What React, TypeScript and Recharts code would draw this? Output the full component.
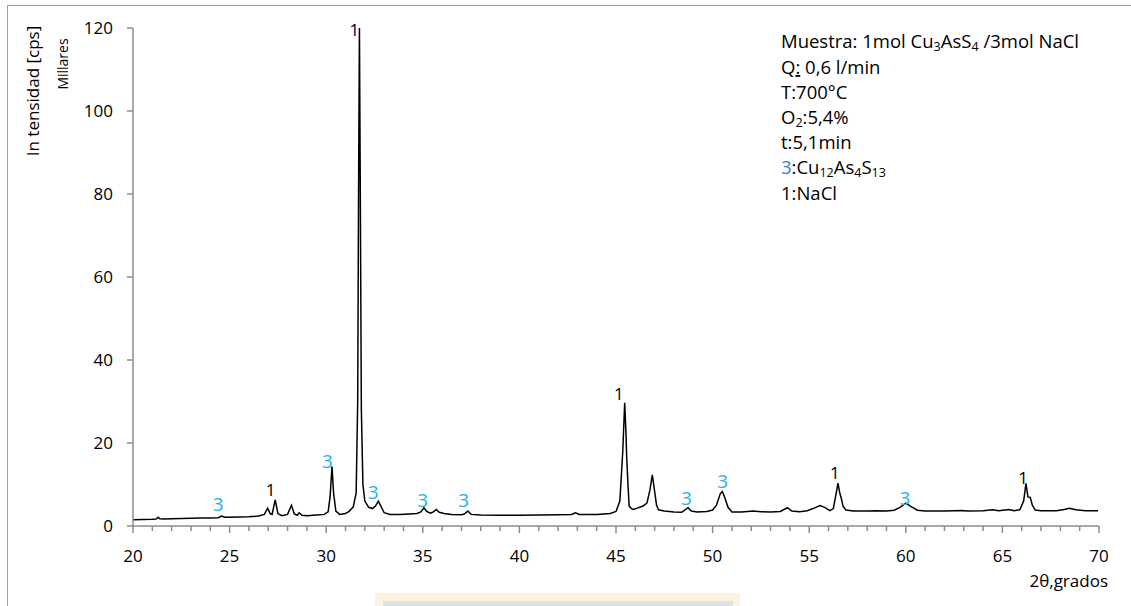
import { ComposedChart, Line, Scatter, XAxis, YAxis } from 'recharts';

// 2θ (grados)
const ANGLE = [
  20.0, 20.5, 21.0, 21.2, 21.3, 21.4, 21.6, 22.0, 22.5, 23.0, 23.5, 24.0, 24.4, 24.6, 24.75,
  25.0, 25.5, 26.0, 26.5, 26.8, 26.97, 27.1, 27.2, 27.36, 27.5, 27.7, 28.0, 28.2, 28.35, 28.5,
  28.6, 28.75, 29.0, 29.5, 29.9, 30.1, 30.2, 30.3, 30.38, 30.5, 30.7, 31.0, 31.2, 31.4, 31.55,
  31.63, 31.68, 31.72, 31.76, 31.82, 31.9, 32.0, 32.2, 32.4, 32.55, 32.7, 32.85, 33.0, 33.3, 33.8,
  34.3, 34.7, 34.9, 35.06, 35.2, 35.4, 35.55, 35.7, 35.85, 36.1, 36.5, 37.0, 37.15, 37.33, 37.5,
  38.0, 39.0, 40.0, 41.0, 42.0, 42.7, 42.9, 43.1, 44.0, 44.7, 45.0, 45.2, 45.35, 45.45, 45.52,
  45.55, 45.62, 45.68, 45.8, 45.9, 46.1, 46.4, 46.6, 46.75, 46.88, 46.98, 47.1, 47.2, 47.5, 48.0,
  48.4, 48.73, 48.9, 49.2, 49.7, 50.0, 50.2, 50.4, 50.5, 50.6, 50.8, 51.0, 51.5, 52.1, 52.5,
  53.0, 53.5, 53.87, 54.1, 54.5, 54.9, 55.2, 55.56, 55.8, 56.07, 56.25, 56.4, 56.49, 56.58, 56.66,
  56.75, 56.9, 57.3, 58.0, 58.5, 59.0, 59.4, 59.7, 60.0, 60.3, 60.6, 61.0, 62.0, 62.9, 63.2,
  64.0, 64.5, 64.8, 65.35, 65.6, 65.9, 66.1, 66.22, 66.32, 66.44, 66.55, 66.7, 67.0, 67.8, 68.2,
  68.47, 68.8, 69.3, 69.95,
];

// intensidad, millares de cps
const INTENSITY = [
  1.5, 1.55, 1.6, 1.7, 2.1, 1.75, 1.7, 1.75, 1.8, 1.85, 1.9, 1.95, 2.0, 2.4, 2.1,
  2.1, 2.15, 2.2, 2.4, 2.8, 4.3, 3.0, 2.8, 6.3, 3.0, 2.5, 2.8, 5.0, 2.9, 2.6,
  3.2, 2.6, 2.5, 2.65, 2.8, 3.4, 7, 14.3, 8, 3.6, 2.8, 3.0, 3.6, 4.6, 8,
  30, 85, 120, 85, 28, 10, 6, 4.5, 4.2, 4.8, 6.0, 4.6, 3.2, 2.8, 2.8,
  2.9, 3.0, 3.4, 4.4, 3.5, 3.1, 3.4, 4.0, 3.3, 3.0, 2.8, 2.7, 2.9, 3.6, 2.8,
  2.65, 2.6, 2.6, 2.65, 2.7, 2.8, 3.2, 2.8, 2.8, 3.0, 3.5, 6, 18, 29.7, 22,
  17, 10, 4.8, 4.2, 4.0, 4.3, 4.8, 5.5, 8.5, 12.3, 9, 5, 3.9, 3.6, 3.4,
  3.3, 4.4, 3.6, 3.4, 3.5, 3.85, 5.0, 7.8, 8.3, 7.2, 4.5, 3.4, 3.4, 3.6, 3.45,
  3.4, 3.5, 4.4, 3.6, 3.45, 3.7, 4.2, 4.9, 4.5, 3.7, 4.2, 8, 10.3, 8, 6.7,
  4.8, 3.85, 3.6, 3.6, 3.65, 3.6, 3.8, 4.5, 5.5, 4.6, 3.8, 3.6, 3.6, 3.75, 3.6,
  3.65, 3.9, 3.65, 3.95, 3.7, 3.9, 6, 10.3, 7, 6.9, 5, 3.85, 3.7, 3.7, 4.0,
  4.3, 3.9, 3.7, 3.7,
];

// peak labels: phase number, position (2θ, millares)
const PEAK_TEXT = ['3', '1', '3', '1', '3', '3', '3', '1', '3', '3', '1', '3', '1'];
const PEAK_X = [24.41, 27.12, 30.07, 31.46, 32.43, 34.99, 37.12, 45.15, 48.64, 50.52, 56.33, 59.95, 66.07];
const PEAK_Y = [5.2, 8.75, 15.7, 119.6, 8.15, 6.15, 6.15, 31.9, 6.7, 10.8, 12.9, 6.8, 11.5];

const X_TICKS = [
  20, 21, 22, 23, 24, 25, 26, 27, 28, 29, 30, 31, 32, 33, 34, 35, 36, 37, 38, 39, 40, 41, 42,
  43, 44, 45, 46, 47, 48, 49, 50, 51, 52, 53, 54, 55, 56, 57, 58, 59, 60, 61, 62, 63, 64, 65,
  66, 67, 68, 69, 70,
];
const X_LABELS = [20, 25, 30, 35, 40, 45, 50, 55, 60, 65, 70];
const Y_TICKS = [0, 20, 40, 60, 80, 100, 120];

const pattern = ANGLE.map((x, i) => ({ x, y: INTENSITY[i] }));
const peaks = PEAK_X.map((x, i) => ({ x, y: PEAK_Y[i], text: PEAK_TEXT[i] }));

const FONT = '"Open Sans", sans-serif';
const AXIS = '#8c8c8c';
const BLUE = '#1fb0ee';

const XTick = (props: any) => {
  const { x, y, payload } = props;
  const major = X_LABELS.includes(payload.value);
  return (
    <g>
      <line x1={x} y1={y} x2={x} y2={y + (major ? 7 : 5)} stroke={AXIS} strokeWidth={1.5} />
      {major && (
        <text x={x} y={y + 36} textAnchor="middle" fontFamily={FONT} fontSize={17} fill="#000">
          {payload.value}
        </text>
      )}
    </g>
  );
};

const PeakLabel = (props: any) => {
  const { cx, cy, payload } = props;
  const isThree = payload.text === '3';
  return (
    <text
      x={cx}
      y={cy}
      dy="0.36em"
      textAnchor="middle"
      fontFamily={FONT}
      fontSize={isThree ? 19 : 17}
      fill={isThree ? BLUE : '#000'}
    >
      {payload.text}
    </text>
  );
};

export default function App() {
  return (
    <div style={{ position: 'absolute', left: 0, top: 0, width: 1131, height: 606, background: '#fff', overflow: 'hidden' }}>
      <div style={{ position: 'absolute', left: 7, top: 5, width: 1124, height: 601, borderTop: '1.5px solid #a0a0a0', borderLeft: '1.5px solid #a0a0a0' }} />
      <div style={{ position: 'absolute', left: 375, top: 593, width: 365, height: 13, background: '#fdf2de' }} />
      <div style={{ position: 'absolute', left: 383, top: 601, width: 350, height: 5, background: '#dde3ec' }} />
      <div style={{ position: 'absolute', left: 0, top: 0 }}>
        <ComposedChart width={1131} height={606} margin={{ top: 28, right: 32, left: 0, bottom: 0 }}>
          <XAxis
            dataKey="x"
            type="number"
            domain={[20, 70]}
            ticks={X_TICKS}
            interval={0}
            height={80}
            stroke={AXIS}
            strokeWidth={1.5}
            tickLine={false}
            tickSize={0}
            tickMargin={0}
            tick={<XTick />}
          />
          <YAxis
            type="number"
            domain={[0, 120]}
            ticks={Y_TICKS}
            width={133}
            stroke={AXIS}
            strokeWidth={1.5}
            tickSize={6}
            tickMargin={14}
            tick={{ fontFamily: FONT, fontSize: 17, fill: '#000' }}
          />
          <Line
            data={pattern}
            dataKey="y"
            type="linear"
            stroke="#000"
            strokeWidth={1.5}
            dot={false}
            isAnimationActive={false}
          />
          <Scatter data={peaks} dataKey="y" shape={<PeakLabel />} isAnimationActive={false} />
        </ComposedChart>
      </div>
      <svg width={1131} height={606} style={{ position: 'absolute', left: 0, top: 0, pointerEvents: 'none' }}>
        <text transform="translate(39,91) rotate(-90)" textAnchor="middle" fontFamily={FONT} fontSize={17}>
          In tensidad [cps]
        </text>
        <text transform="translate(68,64) rotate(-90)" textAnchor="middle" fontFamily={FONT} fontSize={14}>
          Millares
        </text>
        <text x={1108} y={587} textAnchor="end" fontFamily={FONT} fontSize={17}>
          2θ,grados
        </text>
        <g fontFamily={FONT} fontSize={18.5} fill="#000">
          <text x={781} y={48}>
            Muestra: 1mol Cu<tspan fontSize={12.5} dy={3}>3</tspan>
            <tspan dy={-3}>AsS</tspan>
            <tspan fontSize={12.5} dy={3}>4</tspan>
            <tspan dy={-3}> /3mol NaCl</tspan>
          </text>
          <text x={781} y={74}>
            Q<tspan textDecoration="underline">:</tspan> 0,6 l/min
          </text>
          <text x={781} y={99}>T:700°C</text>
          <text x={781} y={124}>
            O<tspan fontSize={12.5} dy={3}>2</tspan>
            <tspan dy={-3}>:5,4%</tspan>
          </text>
          <text x={781} y={149}>t:5,1min</text>
          <text x={781} y={174}>
            <tspan fill="#2e86d1">3</tspan>:Cu<tspan fontSize={12.5} dy={3}>12</tspan>
            <tspan dy={-3}>As</tspan>
            <tspan fontSize={12.5} dy={3}>4</tspan>
            <tspan dy={-3}>S</tspan>
            <tspan fontSize={12.5} dy={3}>13</tspan>
          </text>
          <text x={781} y={200}>1:NaCl</text>
        </g>
      </svg>
    </div>
  );
}
